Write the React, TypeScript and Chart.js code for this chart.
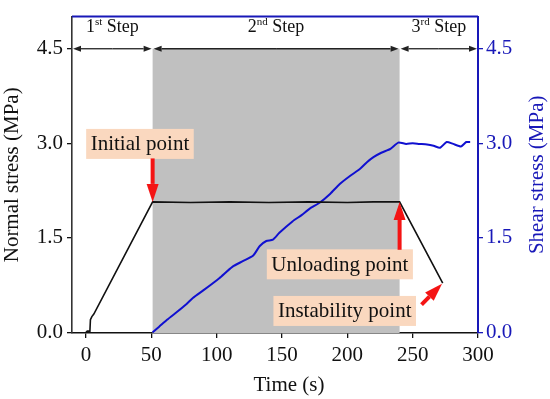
import React, { useEffect, useRef } from 'react';
import { Chart, registerables } from 'chart.js';

Chart.register(...registerables);

const FONT = "'Liberation Serif', 'Times New Roman', serif";

// Normal stress (black) series
const normalTime = [0, 1, 3, 3.4, 4.5, 6, 51, 80, 110, 140, 170, 200, 220, 240, 273];
const normalStress = [0, 0.02, 0.02, 0.2, 0.25, 0.29, 2.07, 2.06, 2.07, 2.06, 2.07, 2.06, 2.07, 2.07, 0.78];

// Shear stress (blue) series
const shearTime = [51, 56, 62, 70, 77, 82, 90, 102, 112, 120, 128, 133, 138, 143, 148, 158, 165, 171, 179, 187, 194, 202, 210, 215, 220, 226, 233, 239, 245, 250, 255, 261, 266, 271, 276, 281, 287, 291, 294];
const shearStress = [0, 0.09, 0.2, 0.33, 0.45, 0.55, 0.67, 0.86, 1.04, 1.13, 1.22, 1.37, 1.45, 1.47, 1.58, 1.76, 1.86, 1.96, 2.06, 2.2, 2.35, 2.48, 2.6, 2.7, 2.78, 2.85, 2.91, 3.01, 2.99, 3.0, 2.99, 2.98, 2.96, 2.93, 3.02, 2.99, 2.95, 3.02, 3.02];

const xTicks = [0, 50, 100, 150, 200, 250, 300];
const yTicks = [0, 1.5, 3.0, 4.5];

const stepNums = ['1', '2', '3'];
const stepSups = ['st', 'nd', 'rd'];
const stepBounds = [51, 240];
const stepLevel = 4.5;

const annotTexts = ['Initial point', 'Unloading point', 'Instability point'];
const annotCenters = [[41.3, 2.99], [194.3, 1.08], [198, 0.34]];
const annotFrom = [[51, 2.76], [240, 1.31], [256.8, 0.44]];
const annotTo = [[51, 2.07], [240, 2.07], [272.5, 0.77]];

const BLUE = '#1010D0';
const AXIS_BLUE = '#1818B8';

function drawArrow(ctx: CanvasRenderingContext2D, x1: number, y1: number, x2: number, y2: number, shaft: number, headLen: number, headHalf: number, color: string) {
  const ang = Math.atan2(y2 - y1, x2 - x1);
  const bx = x2 - headLen * Math.cos(ang);
  const by = y2 - headLen * Math.sin(ang);
  ctx.save();
  ctx.strokeStyle = color;
  ctx.fillStyle = color;
  ctx.lineWidth = shaft;
  ctx.beginPath();
  ctx.moveTo(x1, y1);
  ctx.lineTo(bx, by);
  ctx.stroke();
  ctx.beginPath();
  ctx.moveTo(x2, y2);
  ctx.lineTo(bx + headHalf * Math.sin(ang), by - headHalf * Math.cos(ang));
  ctx.lineTo(bx - headHalf * Math.sin(ang), by + headHalf * Math.cos(ang));
  ctx.closePath();
  ctx.fill();
  ctx.restore();
}

const decorPlugin = {
  id: 'decor',
  beforeDatasetsDraw(chart: any) {
    const { ctx, chartArea, scales } = chart;
    const x = scales.x, y = scales.y;
    const x0 = x.getPixelForValue(stepBounds[0]);
    const x1 = x.getPixelForValue(stepBounds[1]);
    const yTop = y.getPixelForValue(stepLevel);
    ctx.save();
    ctx.fillStyle = '#C0C0C0';
    ctx.fillRect(x0, yTop, x1 - x0, chartArea.bottom - yTop);
    ctx.restore();
  },
  afterDraw(chart: any) {
    const { ctx, chartArea, scales } = chart;
    const x = scales.x, y = scales.y;
    ctx.save();
    // top border
    ctx.strokeStyle = AXIS_BLUE;
    ctx.lineWidth = 2;
    ctx.beginPath();
    ctx.moveTo(chartArea.left, chartArea.top);
    ctx.lineTo(chartArea.right, chartArea.top);
    ctx.stroke();

    // step arrows
    const yl = y.getPixelForValue(stepLevel);
    const bounds = [chartArea.left, x.getPixelForValue(stepBounds[0]), x.getPixelForValue(stepBounds[1]), chartArea.right];
    for (let i = 0; i < 3; i++) {
      const a = bounds[i] + 1, b = bounds[i + 1] - 1;
      const mid = (a + b) / 2;
      drawArrow(ctx, mid, yl, a, yl, 1.3, 8, 3, '#222');
      drawArrow(ctx, mid, yl, b, yl, 1.3, 8, 3, '#222');
      // label
      const bigFont = `18px ${FONT}`;
      const smallFont = `11px ${FONT}`;
      ctx.font = bigFont;
      const wNum = ctx.measureText(stepNums[i]).width;
      const wRest = ctx.measureText(' Step').width;
      ctx.font = smallFont;
      const wSup = ctx.measureText(stepSups[i]).width;
      const total = wNum + wSup + wRest;
      let sx = (bounds[i] + bounds[i + 1]) / 2 - total / 2;
      const base = 32;
      ctx.fillStyle = '#111';
      ctx.textBaseline = 'alphabetic';
      ctx.textAlign = 'left';
      ctx.font = bigFont;
      ctx.fillText(stepNums[i], sx, base);
      sx += wNum;
      ctx.font = smallFont;
      ctx.fillText(stepSups[i], sx, base - 7);
      sx += wSup;
      ctx.font = bigFont;
      ctx.fillText(' Step', sx, base);
    }

    // annotations
    ctx.font = `21px ${FONT}`;
    for (let i = 0; i < annotTexts.length; i++) {
      const cx = x.getPixelForValue(annotCenters[i][0]);
      const cy = y.getPixelForValue(annotCenters[i][1]);
      const w = ctx.measureText(annotTexts[i]).width + 9;
      const h = 30;
      ctx.fillStyle = '#FAD8BF';
      ctx.fillRect(cx - w / 2, cy - h / 2, w, h);
      ctx.fillStyle = '#111';
      ctx.textAlign = 'center';
      ctx.textBaseline = 'middle';
      ctx.fillText(annotTexts[i], cx, cy + 1);
      drawArrow(ctx,
        x.getPixelForValue(annotFrom[i][0]), y.getPixelForValue(annotFrom[i][1]),
        x.getPixelForValue(annotTo[i][0]), y.getPixelForValue(annotTo[i][1]),
        4, 18, 6, '#F41414');
    }

    // axis titles
    const midY = (chartArea.top + chartArea.bottom) / 2;
    ctx.font = `21px ${FONT}`;
    ctx.textAlign = 'center';
    ctx.textBaseline = 'middle';
    ctx.fillStyle = '#111';
    ctx.save();
    ctx.translate(12, midY);
    ctx.rotate(-Math.PI / 2);
    ctx.fillText('Normal stress (MPa)', 0, 0);
    ctx.restore();
    ctx.save();
    ctx.fillStyle = AXIS_BLUE;
    ctx.translate(537, midY);
    ctx.rotate(-Math.PI / 2);
    ctx.fillText('Shear stress (MPa)', 0, 0);
    ctx.restore();
    ctx.fillStyle = '#111';
    ctx.fillText('Time (s)', (chartArea.left + chartArea.right) / 2 + 14, 385);
    ctx.restore();
  },
};

export default function App() {
  const ref = useRef<HTMLCanvasElement | null>(null);
  useEffect(() => {
    if (!ref.current) return;
    const chart = new Chart(ref.current, {
      type: 'line',
      data: {
        datasets: [
          {
            label: 'Normal stress',
            data: normalTime.map((t, i) => ({ x: t, y: normalStress[i] })),
            borderColor: '#111',
            borderWidth: 1.6,
            pointRadius: 0,
            tension: 0,
            yAxisID: 'y',
          },
          {
            label: 'Shear stress',
            data: shearTime.map((t, i) => ({ x: t, y: shearStress[i] })),
            borderColor: BLUE,
            borderWidth: 2,
            pointRadius: 0,
            tension: 0.2,
            yAxisID: 'y1',
          },
        ],
      },
      options: {
        responsive: false,
        animation: false,
        devicePixelRatio: 1,
        layout: { padding: { top: 7, left: 0, right: 0, bottom: 0 } },
        plugins: { legend: { display: false }, tooltip: { enabled: false } },
        font: { family: FONT },
        scales: {
          x: {
            type: 'linear',
            min: -10.7,
            max: 300,
            afterBuildTicks: (s: any) => { s.ticks = xTicks.map((v) => ({ value: v })); },
            afterFit: (s: any) => { s.height = 66; },
            grid: { drawOnChartArea: false, drawTicks: true, tickLength: 5, color: '#111', lineWidth: 1.3 },
            border: { color: '#111', width: 1.6 },
            ticks: { color: '#111', font: { family: FONT, size: 21 }, padding: 5, maxRotation: 0, autoSkip: false, callback: (v: any) => String(v) },
          },
          y: {
            type: 'linear',
            position: 'left',
            min: -0.01,
            max: 5.01,
            afterBuildTicks: (s: any) => { s.ticks = yTicks.map((v) => ({ value: v })); },
            afterFit: (s: any) => { s.width = 72; },
            grid: { drawOnChartArea: false, drawTicks: true, tickLength: 5, color: '#111', lineWidth: 1.3 },
            border: { color: '#333', width: 1.6 },
            ticks: { color: '#111', font: { family: FONT, size: 21 }, padding: 4, autoSkip: false, callback: (v: any) => Number(v).toFixed(1) },
          },
          y1: {
            type: 'linear',
            position: 'right',
            min: -0.01,
            max: 5.01,
            afterBuildTicks: (s: any) => { s.ticks = yTicks.map((v) => ({ value: v })); },
            afterFit: (s: any) => { s.width = 72; },
            grid: { drawOnChartArea: false, drawTicks: true, tickLength: 5, color: AXIS_BLUE, lineWidth: 1.3 },
            border: { color: AXIS_BLUE, width: 2 },
            ticks: { color: AXIS_BLUE, font: { family: FONT, size: 21 }, padding: 3, autoSkip: false, callback: (v: any) => Number(v).toFixed(1) },
          },
        },
      },
      plugins: [decorPlugin],
    } as any);
    return () => chart.destroy();
  }, []);
  return (
    <div style={{ position: 'fixed', left: 0, top: 0, width: 550, height: 399, background: '#fff' }}>
      <canvas ref={ref} width={550} height={399} style={{ display: 'block', width: 550, height: 399 }} />
    </div>
  );
}
